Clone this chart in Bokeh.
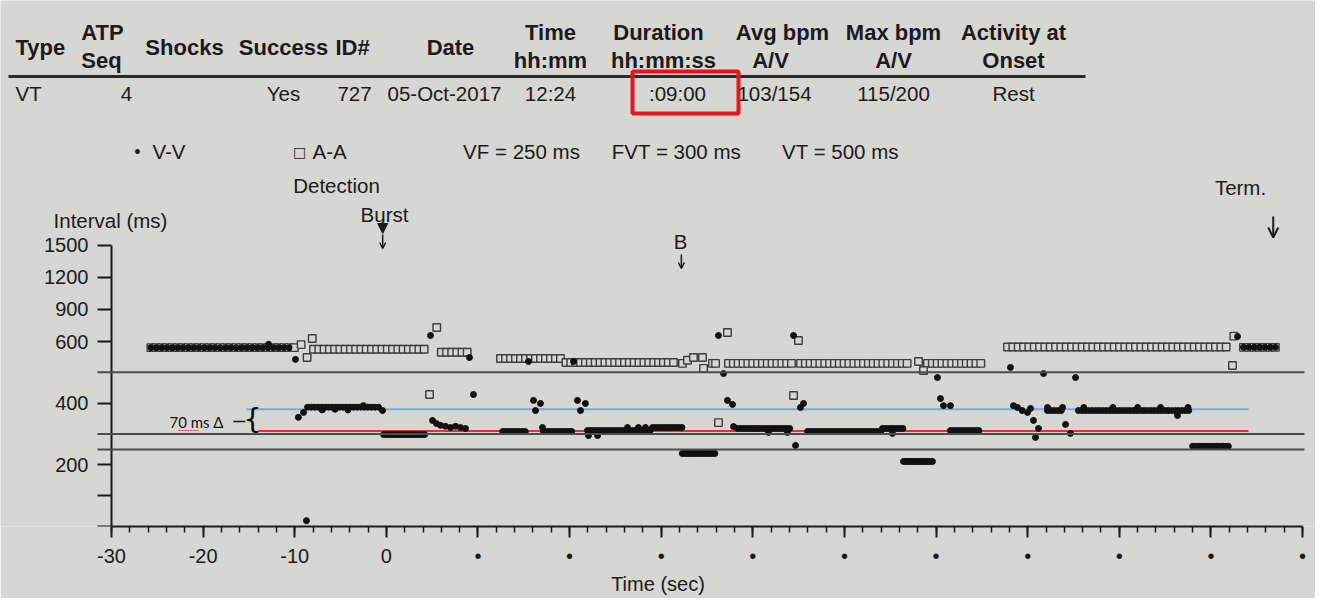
import numpy as np
from bokeh.plotting import figure
from bokeh.models import (Range1d, FixedTicker, Label, Arrow, NormalHead, OpenHead,
                          BoxAnnotation)
from bokeh.embed import file_html
from bokeh.resources import INLINE

# ---------------- data ----------------
header_line1 = ["Type", "ATP", "Shocks", "Success", "ID#", "Date", "Time", "Duration",
                "Avg bpm", "Max bpm", "Activity at"]
header_line2 = ["", "Seq", "", "", "", "", "hh:mm", "hh:mm:ss", "A/V", "A/V", "Onset"]
row_values = ["VT", "4", "", "Yes", "727", "05-Oct-2017", "12:24", ":09:00",
              "103/154", "115/200", "Rest"]

legend_items = ["V-V", "A-A"]
zone_labels = ["VF = 250 ms", "FVT = 300 ms", "VT = 500 ms"]
zone_ms = [250, 300, 500]

event_labels = ["Burst", "B", "Term."]
event_t = [-0.4, 32.2, 96.8]

delta_hi_ms = 380
delta_lo_ms = 310
delta_t = [-15.3, 94.1]
delta_text = "70 ms Δ"

x_ticks = list(range(-30, 101, 10))
x_tick_text = ["-30", "-20", "-10", "0"] + ["•"] * 10
y_ticks_ms = [0, 100, 200, 400, 600, 900, 1200, 1500]
y_tick_text = ["", "", "200", "400", "600", "900", "1200", "1500"]

# V-V plateaus: start (s), end (s), interval (ms)
vv_run_start = [-25.7, -8.6, -0.3, 12.7, 17.15, 21.95, 29.05, 32.3, 38.3, 45.97,
                54.15, 56.44, 61.57, 72.16, 75.54, 88.0, 93.55]
vv_run_end = [-10.4, -0.6, 4.4, 15.4, 20.3, 28.8, 32.3, 35.9, 44.1, 54.1,
              56.4, 59.7, 64.85, 73.9, 87.8, 92.1, 97.3]
vv_run_ms = [580, 387, 298, 308, 308, 311, 321, 237, 318, 308,
             318, 211, 311, 376, 376, 260, 581]

# isolated V-V beats
vv_t = [-12.86, -9.92, -9.6, -9.04, -8.72, -7.0, -5.6, -4.2, -2.5, -0.42,
        4.82, 5.04, 5.47, 5.91, 6.45, 7.0, 7.55, 8.09, 8.64, 9.07, 9.51,
        15.51, 16.06, 16.28, 16.82, 17.04, 20.43, 20.86, 21.19, 21.73,
        22.06, 23.05, 26.32, 27.52, 28.28,
        36.25, 36.80, 37.23, 37.78, 37.89, 41.71, 43.78,
        44.44, 44.66, 45.20, 45.53, 55.24,
        60.15, 60.48, 60.81, 61.57,
        68.12, 68.45, 68.89, 69.4, 69.98, 70.31, 70.63, 70.85, 71.18, 71.73,
        72.16, 73.80, 74.13, 74.67, 75.22,
        76.12, 79.3, 82.0, 84.5, 86.35, 87.5, 92.9]
vv_ms = [591, 542, 354, 370, 19, 378, 380, 378, 392, 376,
         656, 344, 334, 328, 325, 321, 325, 321, 318, 548, 428,
         535, 409, 376, 399, 321, 535, 409, 376, 399,
         295, 295, 321, 321, 321,
         656, 496, 409, 396, 324, 305, 305,
         656, 263, 386, 399, 302,
         483, 415, 392, 392,
         516, 392, 386, 376, 370, 383, 344, 289, 318, 496,
         386, 386, 331, 302, 483,
         386, 386, 386, 386, 360, 386, 647]

# A-A plateaus
aa_run_start = [-25.7, -7.95, 6.0, 12.46, 19.6, 37.34, 45.2, 59.06, 67.8, 93.55]
aa_run_end = [-9.6, 4.6, 9.2, 19.5, 31.2, 44.3, 57.0, 65.2, 92.1, 97.3]
aa_run_ms = [580, 575, 565, 545, 532, 529, 529, 529, 582, 581]

# isolated A-A intervals
aa_t = [-9.3, -8.65, -8.09, 4.71, 5.5,
        31.34, 32.32, 32.87, 33.52, 34.5, 34.62, 35.6, 35.93,
        36.25, 37.23, 44.44, 44.98, 58.08, 58.63, 92.35, 92.5]
aa_ms = [590, 548, 628, 428, 731,
         532, 529, 539, 548, 548, 513, 529, 529,
         337, 684, 425, 609, 535, 506, 522, 650]

# ---------------- styling / geometry ----------------
PAPER = "#d6d6d3"
INK = "#1b1b1b"
FONT = "Liberation Sans"

W, H = 1315, 598
AX_X, AX_Y = 111, 526        # pixel position of (t=-30, 0 ms)
SX = 9.162                   # px per second
SY = 185 / 600               # px per display unit


def yt(v):
    """Printout's interval axis: linear to 600 ms, compressed above."""
    v = np.asarray(v, dtype=float)
    return np.where(v <= 600, v, 600 + (v - 600) * 104 / 300)


def dx(px):
    return -30 + (px - AX_X) / SX


def dy(py):
    return (AX_Y - py) / SY


def expand(starts, ends, ms):
    ts, vs = [], []
    for s, e, m in zip(starts, ends, ms):
        t = np.arange(s, e + 1e-9, m / 1000.0)
        ts.extend(t.tolist())
        vs.extend([m] * len(t))
    return ts, vs


p = figure(width=W, height=H,
           x_range=Range1d(dx(0), dx(W)), y_range=Range1d(0, dy(0)),
           output_backend="svg", toolbar_location=None,
           min_border_left=0, min_border_right=0, min_border_top=0,
           min_border_bottom=H - AX_Y)
p.background_fill_color = PAPER
p.border_fill_color = PAPER
p.outline_line_color = None
p.grid.visible = False

# x axis
xa = p.xaxis[0]
xa.ticker = FixedTicker(ticks=x_ticks, minor_ticks=list(range(-30, 101, 2)))
xa.bounds = (-30, 100)
xa.major_label_overrides = {t: s for t, s in zip(x_ticks, x_tick_text)}
xa.axis_line_width = 2
xa.axis_line_color = INK
xa.major_tick_in = 0
xa.major_tick_out = 11
xa.minor_tick_in = 0
xa.minor_tick_out = 6
xa.major_tick_line_width = 2
xa.minor_tick_line_width = 1.5
xa.major_tick_line_color = INK
xa.minor_tick_line_color = INK
xa.major_label_text_font = FONT
xa.major_label_text_font_size = "20px"
xa.major_label_text_color = INK
xa.major_label_standoff = 7
xa.axis_label = "Time (sec)"
xa.axis_label_text_font = FONT
xa.axis_label_text_font_size = "20px"
xa.axis_label_text_font_style = "normal"
xa.axis_label_text_color = INK
xa.axis_label_standoff = 3

# y axis, pinned at t = -30 inside the frame
ya = p.yaxis[0]
ya.fixed_location = -30
ytick_vals = [int(round(float(v))) for v in yt(y_ticks_ms)]
ya.ticker = FixedTicker(ticks=ytick_vals, minor_ticks=[])
ya.bounds = (0, ytick_vals[-1])
ya.major_label_overrides = {t: s for t, s in zip(ytick_vals, y_tick_text)}
ya.axis_line_width = 2
ya.axis_line_color = INK
ya.major_tick_in = 0
ya.major_tick_out = 14
ya.major_tick_line_width = 2
ya.major_tick_line_color = INK
ya.minor_tick_line_color = None
ya.major_label_text_font = FONT
ya.major_label_text_font_size = "20px"
ya.major_label_text_color = INK
ya.major_label_standoff = 9

# zone threshold lines
for ms in zone_ms:
    yv = float(yt(ms))
    p.add_layout(Arrow(end=None, x_start=dx(97), x_end=dx(1304), y_start=yv, y_end=yv,
                       line_color="#4d4d4d", line_width=2))

# 70 ms delta lines
p.segment(x0=[delta_t[0]], y0=[float(yt(delta_hi_ms))], x1=[delta_t[1]],
          y1=[float(yt(delta_hi_ms))], line_color="#7fa9d8", line_width=2)
p.segment(x0=[delta_t[0] + 1.3], y0=[float(yt(delta_lo_ms))], x1=[delta_t[1]],
          y1=[float(yt(delta_lo_ms))], line_color="#e8302c", line_width=2)

# markers
at, av = expand(aa_run_start, aa_run_end, aa_run_ms)
at += aa_t
av += aa_ms
vt, vv = expand(vv_run_start, vv_run_end, vv_run_ms)
vt += vv_t
vv += vv_ms

p.scatter(at, yt(av), marker="square", size=7.5, fill_color=PAPER,
          line_color="#3c3c3c", line_width=1.4)
p.scatter(vt, yt(vv), marker="circle", size=6, fill_color="#111111",
          line_color="#111111")


# ---------------- text ----------------
def lab(text, px, py, size=20.5, bold=False, align="center", font=FONT, color=INK):
    p.add_layout(Label(x=dx(px), y=dy(py), text=text, text_font=font,
                       text_font_size=f"{size}px",
                       text_font_style="bold" if bold else "normal",
                       text_align=align, text_baseline="middle", text_color=color))


h1_x = [15, 102, 184, 283, 352, 450, 550, 658, 782, 893, 1013]
h2_x = [0, 101, 0, 0, 0, 0, 550, 663, 770, 893, 1013]
row_x = [15, 126, 0, 283, 354, 444, 550, 677, 774, 893, 1013]
for i, h in enumerate(header_line1):
    two = header_line2[i] != ""
    al = "left" if i == 0 else "center"
    lab(h, h1_x[i], 32 if two else 47, size=22, bold=True, align=al)
    if two:
        lab(header_line2[i], h2_x[i], 60, size=22, bold=True)
for i, v in enumerate(row_values):
    if v:
        lab(v, row_x[i], 93, align="left" if i == 0 else "center")

p.add_layout(Arrow(end=None, x_start=dx(8), x_end=dx(1085), y_start=dy(76), y_end=dy(76),
                   line_color="#2a2a2a", line_width=3))
p.add_layout(BoxAnnotation(left=dx(632), right=dx(738), top=dy(71), bottom=dy(113),
                           fill_color=None, fill_alpha=0, line_color="#e8141c",
                           line_alpha=1.0, line_width=4))

# legend row
lab("•", 137, 151, size=18)
lab(legend_items[0], 152, 151, align="left")
lab("□", 299, 151, size=14, font="DejaVu Sans")
lab(legend_items[1], 312, 151, align="left")
for txt, cx in zip(zone_labels, [521, 676, 840]):
    lab(txt, cx, 151)

# events
lab("Detection", 336, 185)
lab(event_labels[0], 384, 214)
p.add_layout(Arrow(end=NormalHead(size=10, fill_color=INK, line_color=INK),
                   x_start=event_t[0], x_end=event_t[0], y_start=dy(221), y_end=dy(233),
                   line_color=INK, line_width=2))
p.add_layout(Arrow(end=OpenHead(size=6, line_color=INK, line_width=1.5),
                   x_start=event_t[0], x_end=event_t[0], y_start=dy(234), y_end=dy(248),
                   line_color=INK, line_width=1.5))
lab(event_labels[1], 680, 241)
p.add_layout(Arrow(end=OpenHead(size=6, line_color=INK, line_width=1.5),
                   x_start=event_t[1], x_end=event_t[1], y_start=dy(254), y_end=dy(268),
                   line_color=INK, line_width=1.5))
lab(event_labels[2], 1240, 187)
p.add_layout(Arrow(end=OpenHead(size=10, line_color=INK, line_width=2),
                   x_start=event_t[2], x_end=event_t[2], y_start=dy(216), y_end=dy(237),
                   line_color=INK, line_width=2))

lab("Interval (ms)", 110, 220)

# 70 ms delta annotation
lab(delta_text, 196, 421, size=15, font="Lato", color="#111111")
p.add_layout(Arrow(end=None, x_start=dx(178), x_end=dx(199), y_start=dy(430), y_end=dy(430),
                   line_color="#e8302c", line_width=1.2, line_dash="2 1"))
p.add_layout(Arrow(end=None, x_start=dx(233), x_end=dx(245), y_start=dy(421), y_end=dy(421),
                   line_color="#111111", line_width=1.5))
lab("{", 252, 418, size=29, font="DejaVu Sans", color="#111111")

open("out.html", "w").write(file_html(p, INLINE))
